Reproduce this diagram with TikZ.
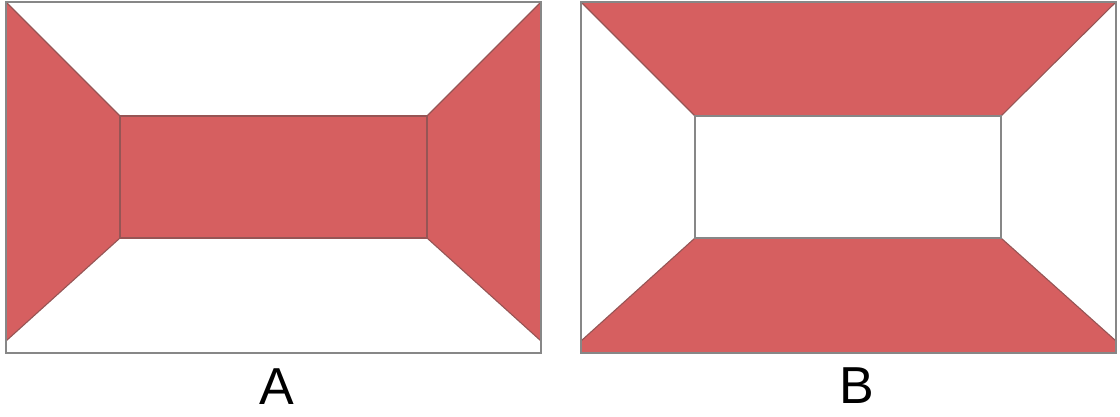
\documentclass[tikz,border=0pt]{standalone}
\usepackage{fontspec}
\setmainfont{Liberation Sans}
\definecolor{wallred}{RGB}{214,95,96}
\definecolor{walledge}{RGB}{150,85,85}
\definecolor{framegray}{RGB}{135,135,135}
\tikzset{
  wall/.style={fill=wallred, draw=walledge, line width=1.1pt, line join=round},
  frame/.style={draw=framegray, line width=1.3pt},
  inner/.style={draw=framegray, line width=1.1pt},
  panellabel/.style={font=\fontsize{52}{52}\selectfont, text=black, inner sep=0pt}
}
\begin{document}
\begin{tikzpicture}[x=1pt, y=-1pt]
  \useasboundingbox (0,0) rectangle (1120,417);

  % A：左右两面与后墙
  \filldraw[wall] (6,2) -- (120,116) -- (120,238) -- (6,341) -- cycle;
  \filldraw[wall] (541,2) -- (427,116) -- (427,238) -- (541,341) -- cycle;
  \filldraw[wall] (120,116) rectangle (427,238);
  % A 外框
  \draw[frame] (6,2) rectangle (541,353);

  % B：上下两面
  \filldraw[wall] (581,2) -- (1116,2) -- (1001,116) -- (695,116) -- cycle;
  \filldraw[wall] (581,353) -- (581,341) -- (695,238) -- (1001,238) -- (1116,341) -- (1116,353) -- cycle;
  % B 后墙（白）
  \draw[inner] (695,116) rectangle (1001,238);
  % B 外框
  \draw[frame] (581,2) rectangle (1116,353);

  % 标签
  \node[panellabel] (labelA) at (277,387) {A};
  \node[panellabel] (labelB) at (857,386) {B};
\end{tikzpicture}
\end{document}
